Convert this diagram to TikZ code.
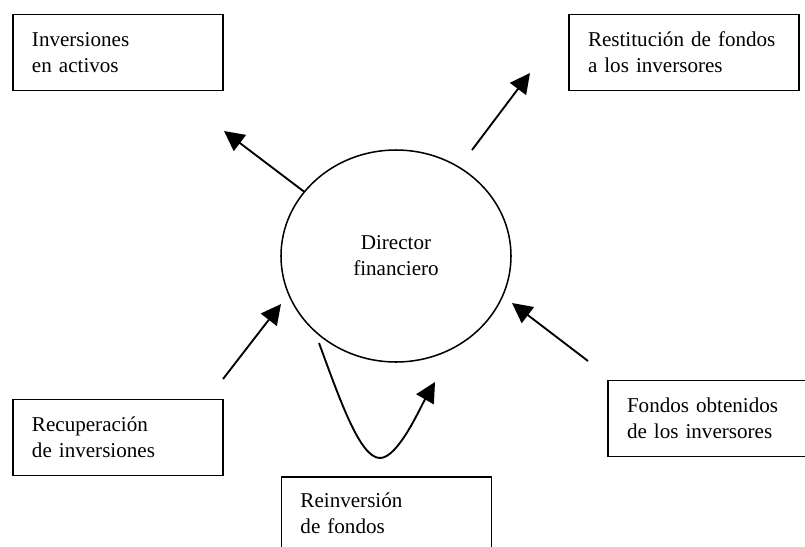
\documentclass[tikz,border=0pt]{standalone}
\usepackage{fontspec}
\setmainfont{Liberation Serif}
\usetikzlibrary{arrows.meta,shapes.geometric}

\tikzstyle{box}=[draw,line width=1.3pt,align=left,inner xsep=0.57cm,text width=5.16cm,minimum height=2.28cm,font=\fontsize{18}{22}\selectfont]
\tikzstyle{widebox}=[box,text width=5.76cm]
\tikzstyle{center}=[ellipse,draw,line width=1.3pt,align=center,minimum width=6.9cm,minimum height=6.36cm,font=\fontsize{18}{22}\selectfont]
\tikzstyle{flow} = [draw,line width=1.6pt,-{Triangle[length=6mm,width=6mm]}]

\begin{document}
\begin{tikzpicture}[x=0.03cm,y=0.03cm]
     \path[use as bounding box] (0,0) rectangle (805,-546);
     \clip (0,0) rectangle (805,-546);

     \node[center] (dir) at (396,-256) {Director\\financiero};

     \node[box] (inv) at (118,-52.5) {Inversiones\\en activos};
     \node[widebox] (rest) at (684,-52.5) {Restitución de fondos\\a los inversores};
     \node[box] (recup) at (118,-437.5) {Recuperación\\de inversiones};
     \node[widebox] (fond) at (723,-418.5) {Fondos obtenidos\\de los inversores};
     \node[box,minimum height=2.16cm] (reinv) at (386.5,-513) {Reinversión\\de fondos};

     \foreach \pos/\name in {{(224,-131)/invtip}, {(472,-150)/resttail}, {(530,-73)/resttip},
       {(223,-379)/recuptail}, {(281,-304)/recuptip}, {(588,-361)/fondtail},
       {(512,-303)/fondtip}, {(319,-343)/reintail}, {(435,-382)/reintip}}
     \node[coordinate] (\name) at \pos {};

     \foreach \source/ \dest  in {dir.145/invtip, resttail/resttip, recuptail/recuptip, fondtail/fondtip}
     \path[flow] (\source) --   (\dest);

     % reinversion loop
     \path[flow] (reintail) .. controls (340,-400) and (360,-458) .. (380,-458)
        .. controls (398,-458) and (420,-408) .. (reintip);

   \end{tikzpicture}
\end{document}
